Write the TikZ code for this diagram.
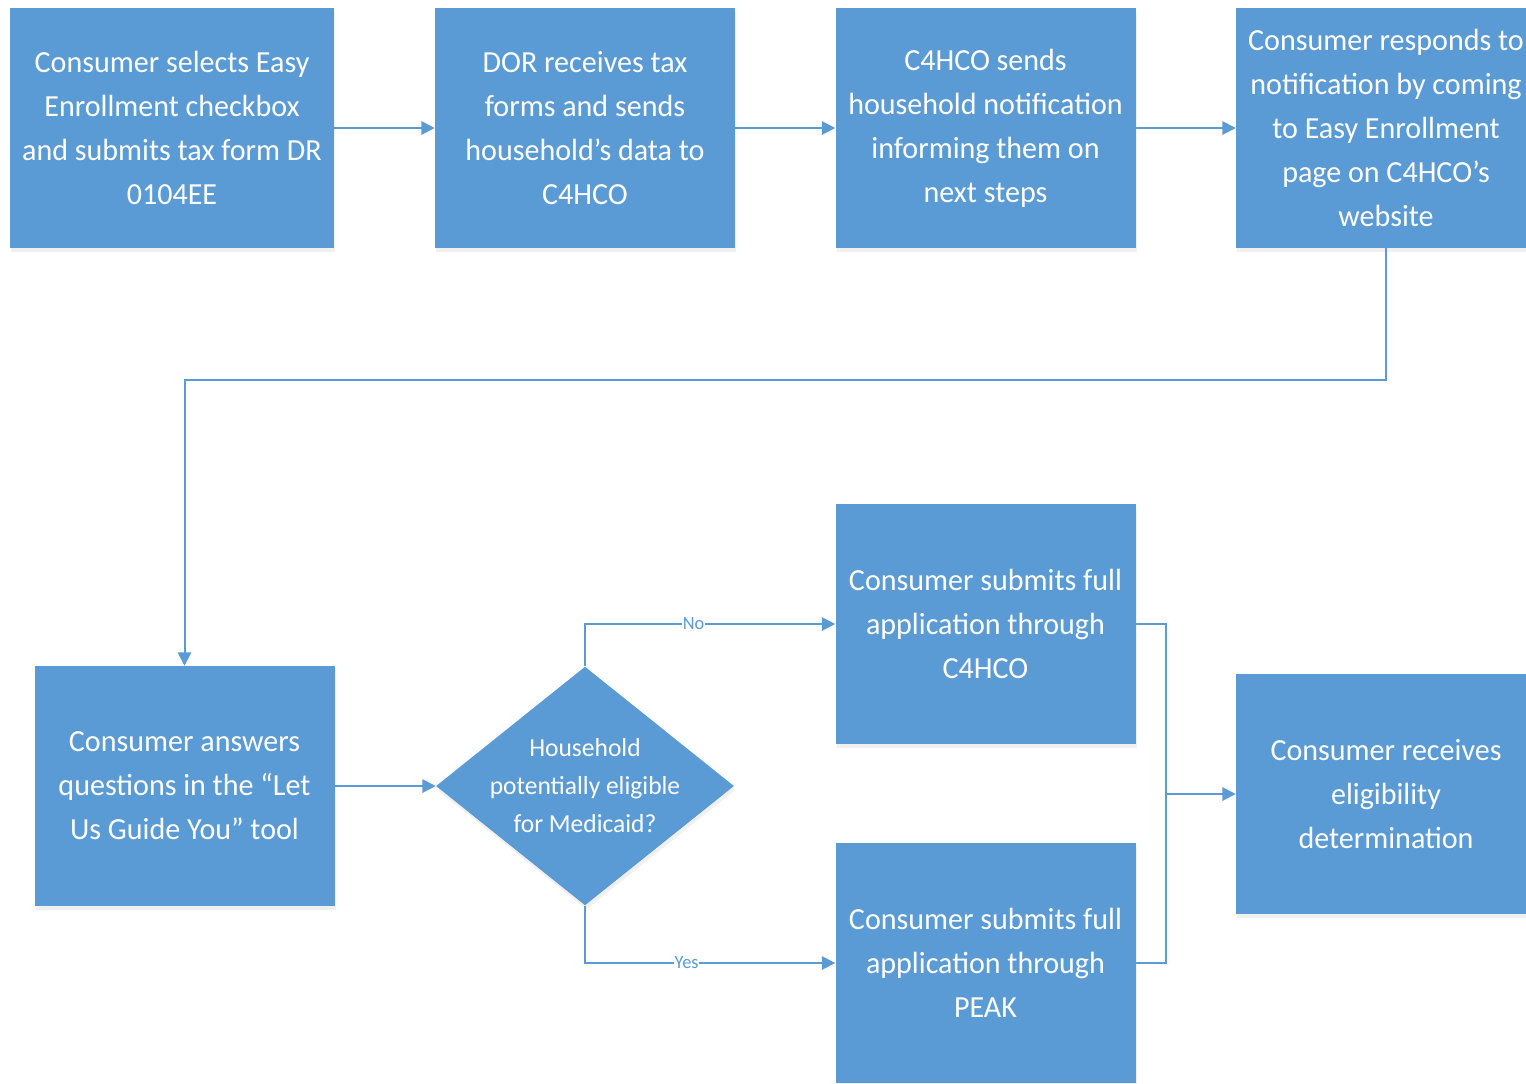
\documentclass[tikz,border=0pt]{standalone}
\usepackage{fontspec}
\setmainfont[FakeStretch=0.98]{Carlito}
\usetikzlibrary{arrows.meta,shapes.geometric,shadows}
\definecolor{boxblue}{HTML}{5B9BD5}
\begin{document}
\begin{tikzpicture}[x=0.75pt,y=-0.75pt,
  box/.style={rectangle, fill=boxblue, text=white, align=center, inner sep=0pt,
    minimum width=225pt, minimum height=180pt,
    font=\fontsize{23}{33}\selectfont,
    drop shadow={opacity=0.12, shadow xshift=1pt, shadow yshift=-3pt}},
  line/.style={draw=boxblue, line width=1.5pt},
  conn/.style={line, -{Triangle[length=10pt,width=10pt]}},
  lab/.style={fill=white, text=boxblue, inner sep=0.5pt, font=\fontsize{14}{16}\selectfont}
]
\useasboundingbox (0,0) rectangle (1526,1083);

\node[box, minimum width=243pt] (b1) at (172,128) {Consumer selects Easy\\Enrollment checkbox\\and submits tax form DR\\0104EE};
\node[box] (b2) at (585,128) {DOR receives tax\\forms and sends\\household’s data to\\C4HCO};
\node[box] (b3) at (985.5,128) {C4HCO sends\\household notification\\informing them on\\next steps};
\node[box] (b4) at (1386,128) {Consumer responds to\\notification by coming\\to Easy Enrollment\\page on C4HCO’s\\website};

\node[box] (b5) at (184.5,786) {Consumer answers\\questions in the “Let\\Us Guide You” tool};
\node[diamond, fill=boxblue, inner sep=0pt, minimum width=223.5pt, minimum height=179pt,
  drop shadow={opacity=0.12, shadow xshift=1pt, shadow yshift=-3pt}] (dia) at (585,786) {};
\node[text=white, align=center, font=\fontsize{19.5}{28.5}\selectfont] (diatext) at (dia.center) {Household\\potentially eligible\\for Medicaid?};
\node[box] (b6) at (985.5,624) {Consumer submits full\\application through\\C4HCO};
\node[box] (b7) at (985.5,963) {Consumer submits full\\application through\\PEAK};
\node[box] (b8) at (1386,794) {Consumer receives\\eligibility\\determination};

\draw[conn] (b1.east) -- (b2.west);
\draw[conn] (b2.east) -- (b3.west);
\draw[conn] (b3.east) -- (b4.west);
\draw[conn] (b4.south) -- ++(0,132) -| (b5.north);
\draw[conn] (b5.east) -- (dia.west);
\draw[conn] (dia.north) |- node[lab, pos=0.717] {No} (b6.west);
\draw[conn] (dia.south) |- node[lab, pos=0.703] {Yes} (b7.west);
\coordinate (join) at (1165,794);
\draw[line] (b6.east) -- ++(30,0) |- (b7.east);
\draw[conn] (join) -- (b8.west);
\end{tikzpicture}
\end{document}
